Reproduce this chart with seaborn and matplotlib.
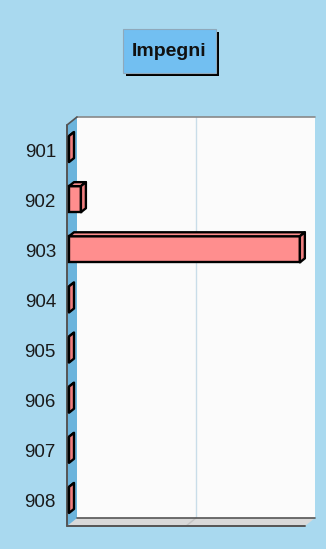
import matplotlib
matplotlib.use("Agg")
import matplotlib.pyplot as plt
from matplotlib.patches import Polygon, Rectangle
from matplotlib.lines import Line2D
from matplotlib.transforms import IdentityTransform, offset_copy
import pandas as pd
import seaborn as sns

# --- data ---
categories = ["901", "902", "903", "904", "905", "906", "907", "908"]
impegni = [0.0, 5.0, 97.0, 0.0, 0.0, 0.0, 0.0, 0.0]
x_max = 100.0
grid_values = [50.0]
title = "Impegni"

# --- style ---
W, H, DPI = 326, 549, 100
BG = "#a9d9ef"
WALL_BACK = "#fbfbfb"
WALL_LEFT = "#6cb4dc"
FLOOR = "#d9d9d9"
EDGE = "#555555"
GRID = "#c9dde9"
BAR = "#ff8e8e"
BAR_SIDE = "#f07f7f"
BOX = "#72bff1"

sns.set_theme(style="white")
plt.rcParams["font.family"] = ["Liberation Sans", "DejaVu Sans"]

fig = plt.figure(figsize=(W / DPI, H / DPI), dpi=DPI, facecolor=BG)

# front plane of the 3D box, in pixels from the top-left corner
L, R, T, B = 67, 305, 125, 526
ax = fig.add_axes([L / W, 1 - B / H, (R - L) / W, (B - T) / H])
ax.patch.set_visible(False)
DX, DY = 10, 8      # depth of the box
BDX, BDY = 5, 4     # depth of the bars
OX, OY = 2, 1       # bars sit slightly behind the front plane

df = pd.DataFrame({"categoria": categories, "impegni": impegni})
sns.barplot(data=df, x="impegni", y="categoria", orient="h", color=BAR,
            saturation=1, width=0.52, edgecolor="black", linewidth=1.7,
            ax=ax, zorder=5)
ax.set_xlim(0, x_max)
ax.set_ylim(len(categories) - 0.5, -0.5)
ax.set_xticks([])
ax.set_xlabel("")
ax.set_ylabel("")
ax.tick_params(axis="y", length=0, pad=8, labelsize=13.5, labelcolor="#1a1a1a")
sns.despine(ax=ax, left=True, bottom=True)

bars = list(ax.patches)
ID = IdentityTransform()
bar_trans = offset_copy(ax.transData, fig=fig, x=OX, y=OY, units="dots")
for p in bars:
    p.set_transform(bar_trans)


def poly(pts, **kw):
    p = Polygon(pts, closed=True, transform=ID, clip_on=False, **kw)
    ax.add_patch(p)


def line(xs, ys, **kw):
    ln = Line2D(xs, ys, transform=ID, clip_on=False, **kw)
    ax.add_line(ln)


# box walls
(x0, y0) = ax.transAxes.transform((0, 0))
(x1, y1) = ax.transAxes.transform((1, 1))
poly([(x0 + DX, y0 + DY), (x1 + DX, y0 + DY), (x1 + DX, y1 + DY), (x0 + DX, y1 + DY)],
     facecolor=WALL_BACK, edgecolor="none", zorder=0)
poly([(x0, y0), (x1, y0), (x1 + DX, y0 + DY), (x0 + DX, y0 + DY)],
     facecolor=FLOOR, edgecolor="none", zorder=1)
poly([(x0, y0), (x0, y1), (x0 + DX, y1 + DY), (x0 + DX, y0 + DY)],
     facecolor=WALL_LEFT, edgecolor="none", zorder=1)

# gridlines on the back wall and the floor
for g in grid_values:
    xg = ax.transData.transform((g, 0))[0]
    line([xg + DX, xg + DX], [y0 + DY, y1 + DY], color=GRID, lw=1, zorder=0.5)
    line([xg, xg + DX], [y0, y0 + DY], color="#c4c4c4", lw=1, zorder=1.5)

# edges of the box
line([x0 + DX, x1 + DX], [y1 + DY, y1 + DY], color="#888888", lw=1.2, zorder=2)
line([x0, x0 + DX], [y1, y1 + DY], color=EDGE, lw=1.2, zorder=2)
line([x0, x0], [y0, y1], color=EDGE, lw=1.4, zorder=2)
line([x0, x1], [y0, y0], color=EDGE, lw=1.4, zorder=2)
line([x0 + DX, x1 + DX], [y0 + DY, y0 + DY], color=EDGE, lw=1.2, zorder=2)

# 3D faces of the bars
for p in bars:
    bx, by, bw, bh = p.get_x(), p.get_y(), p.get_width(), p.get_height()
    (xl, ya) = bar_trans.transform((bx, by))
    (xr, yb2) = bar_trans.transform((bx + bw, by + bh))
    yt, yb = max(ya, yb2), min(ya, yb2)
    poly([(xl, yt), (xr, yt), (xr + BDX, yt + BDY), (xl + BDX, yt + BDY)],
         facecolor=BAR, edgecolor="black", lw=1.7, joinstyle="round", zorder=6)
    poly([(xr, yb), (xr, yt), (xr + BDX, yt + BDY), (xr + BDX, yb + BDY)],
         facecolor=BAR_SIDE, edgecolor="black", lw=1.7, joinstyle="round", zorder=6)

# title box with drop shadow
bl, bt, br, bb = 123, 29, 216, 73
fig.add_artist(Rectangle((bl + 3, H - bb - 3), br - bl, bb - bt, transform=ID,
                         facecolor="black", edgecolor="none", zorder=10))
fig.add_artist(Rectangle((bl, H - bb), br - bl, bb - bt, transform=ID,
                         facecolor=BOX, edgecolor="#8fa9bb", lw=0.8, zorder=11))
fig.text((bl + br) / 2 / W, 1 - (bt + bb) / 2 / H, title, ha="center", va="center",
         fontsize=14, fontweight="bold", color="#111111", zorder=12)

fig.savefig("out.png", dpi=DPI, facecolor=BG)
